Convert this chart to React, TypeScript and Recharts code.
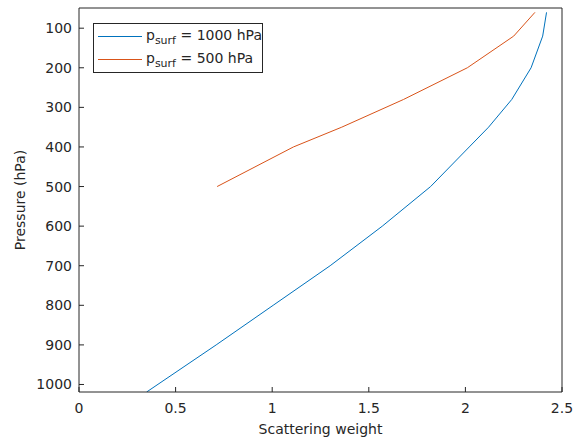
import React from "react";
import { LineChart, Line, XAxis, YAxis, Legend, Label } from "recharts";

// surface pressures of the two profiles (legend entries)
const surfacePressures = [1000, 500];

// psurf = 1000 hPa
const pressure1000 = [60, 120, 200, 280, 350, 400, 500, 600, 700, 800, 900, 1019];
const weight1000 = [2.42, 2.4, 2.34, 2.24, 2.12, 2.02, 1.82, 1.57, 1.3, 1.005, 0.71, 0.35];

// psurf = 500 hPa
const pressure500 = [60, 120, 200, 280, 350, 400, 500];
const weight500 = [2.36, 2.25, 2.01, 1.68, 1.36, 1.11, 0.715];

const xTicks = [0, 0.5, 1, 1.5, 2, 2.5];
const yTicks = [100, 200, 300, 400, 500, 600, 700, 800, 900, 1000];

const colors = ["#0072BD", "#D95319"];
const axisColor = "#262626";
const font = "DejaVu Sans";

const toRows = (p: number[], w: number[]) => p.map((v, i) => ({ p: v, w: w[i] }));

const series = [toRows(pressure1000, weight1000), toRows(pressure500, weight500)];

const LegendBox = () => (
  <div
    style={{
      width: 168,
      height: 47,
      border: `1px solid ${axisColor}`,
      background: "#fff",
      fontFamily: font,
      fontSize: 14,
      color: axisColor,
      paddingTop: 1,
      boxSizing: "content-box",
    }}
  >
    {surfacePressures.map((ps, i) => (
      <div key={ps} style={{ display: "flex", alignItems: "center", height: 23 }}>
        <svg width={44} height={1} style={{ marginLeft: 4, marginRight: 4, display: "block" }}>
          <rect x={0} y={0} width={44} height={1} fill={colors[i]} />
        </svg>
        <span style={{ whiteSpace: "nowrap" }}>
          p<sub style={{ fontSize: 11, verticalAlign: -4 }}>surf</sub> = {ps} hPa
        </span>
      </div>
    ))}
  </div>
);

export default function App() {
  const tickStyle = { fill: axisColor, fontSize: 14, fontFamily: font };
  return (
    <div style={{ position: "absolute", left: 0, top: 0, background: "#fff" }}>
      <LineChart width={574} height={440} margin={{ top: 7, right: 11, bottom: 8, left: 0 }}>
        <XAxis
          xAxisId="b"
          type="number"
          dataKey="w"
          domain={[0, 2.5]}
          ticks={xTicks}
          allowDataOverflow
          height={40}
          tickSize={-5}
          tickMargin={16}
          stroke={axisColor}
          tick={tickStyle}
        >
          <Label
            value="Scattering weight"
            position="insideBottom"
            offset={-2}
            style={{ fill: axisColor, fontSize: 14, fontFamily: font }}
          />
        </XAxis>
        <XAxis
          xAxisId="t"
          orientation="top"
          type="number"
          dataKey="w"
          domain={[0, 2.5]}
          ticks={xTicks}
          allowDataOverflow
          height={1}
          tickSize={-5}
          tick={false}
          stroke={axisColor}
        />
        <YAxis
          yAxisId="l"
          type="number"
          dataKey="p"
          reversed
          domain={[49, 1019]}
          ticks={yTicks}
          allowDataOverflow
          width={79}
          tickSize={-5}
          tickMargin={12}
          stroke={axisColor}
          tick={tickStyle}
        >
          <Label
            value="Pressure (hPa)"
            angle={-90}
            position="insideLeft"
            offset={20}
            style={{ fill: axisColor, fontSize: 14, fontFamily: font, textAnchor: "middle" }}
          />
        </YAxis>
        <YAxis
          yAxisId="r"
          orientation="right"
          type="number"
          dataKey="p"
          reversed
          domain={[49, 1019]}
          ticks={yTicks}
          allowDataOverflow
          width={1}
          tickSize={-5}
          tick={false}
          stroke={axisColor}
        />
        {series.map((rows, i) => (
          <Line
            key={surfacePressures[i]}
            xAxisId="b"
            yAxisId="l"
            data={rows}
            dataKey="p"
            name={String(surfacePressures[i])}
            stroke={colors[i]}
            strokeWidth={1}
            dot={false}
            isAnimationActive={false}
          />
        ))}
        <Legend
          layout="vertical"
          align="center"
          verticalAlign="middle"
          wrapperStyle={{ left: 93, top: 23, width: 170, height: 50 }}
          content={<LegendBox />}
        />
      </LineChart>
    </div>
  );
}
